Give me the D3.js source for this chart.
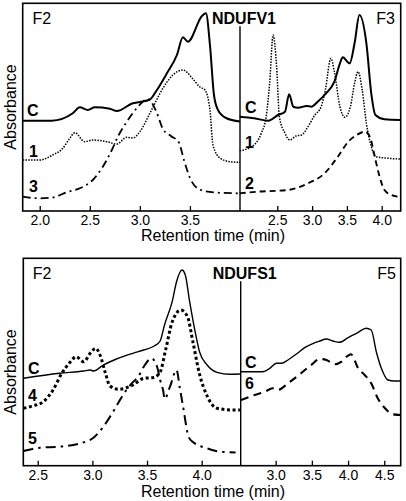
<!DOCTYPE html>
<html><head><meta charset="utf-8">
<script src="https://cdn.jsdelivr.net/npm/d3@7"></script>
<style>
body{margin:0;background:#fff}
svg{display:block}
text{font-family:"Liberation Sans",Arial,Helvetica,sans-serif;fill:#000}
</style>
</head><body>
<svg id="chart" width="406" height="501"></svg>
<script>
// ---------------- DATA (retention time in min, absorbance in arbitrary units) ----------------
// NDUFV1, fraction F2
const v1F2_C = [[1.83,90.3],[2.12,90.3],[2.33,97.7],[2.40,103.7],[2.48,101],[2.55,103.7],[2.70,102.3],[2.77,100],[2.93,107.7],[3.00,109],[3.10,111.5],[3.17,121],[3.27,137.7],[3.37,156],[3.43,173.7],[3.48,169.3],[3.62,195],[3.66,197.7],[3.70,166],[3.74,116],[3.78,101],[3.86,93],[4.00,89.5]];
const v1F2_1 = [[1.83,51],[2.00,51],[2.13,56],[2.23,62.7],[2.30,72.7],[2.35,78.3],[2.45,69.3],[2.53,71],[2.67,69.3],[2.77,67],[2.87,73.7],[2.93,73],[3.00,79.3],[3.10,97.7],[3.23,122.7],[3.33,136],[3.43,141],[3.53,132],[3.60,124],[3.65,121],[3.70,101],[3.73,66],[3.80,53],[3.90,49.3],[4.00,48.7]];
const v1F2_3 = [[1.83,14.3],[2.00,12.7],[2.12,13.3],[2.27,18.7],[2.40,22.7],[2.53,31],[2.63,44.3],[2.72,61],[2.78,74.3],[2.87,89.3],[2.97,103],[3.08,112],[3.17,98],[3.23,82],[3.31,75],[3.39,68.5],[3.44,51],[3.51,31],[3.61,21],[3.75,18.5],[3.98,17.7]];
// NDUFV1, fraction F3
const v1F3_C = [[1.96,94.3],[2.17,92.7],[2.37,90.3],[2.51,96],[2.61,99.3],[2.67,116.7],[2.73,104.3],[2.80,103.3],[2.92,105],[2.99,104.3],[3.08,109.3],[3.20,117.7],[3.32,129.3],[3.40,147.7],[3.44,153.7],[3.54,147.7],[3.61,167.7],[3.68,196],[3.78,167.7],[3.85,117.7],[3.91,96],[4.04,91.7],[4.27,91]];
const v1F3_1 = [[1.96,60.3],[2.13,64.3],[2.27,77.7],[2.34,94.3],[2.39,127.7],[2.44,176],[2.49,144.3],[2.53,94.3],[2.61,77.7],[2.68,71],[2.77,75],[2.85,76],[2.94,84.3],[3.04,96],[3.13,104.3],[3.19,121],[3.27,152.7],[3.32,139.3],[3.40,104.3],[3.47,93.7],[3.55,104.3],[3.61,127.7],[3.66,139.3],[3.72,121],[3.78,87.7],[3.85,64.3],[3.92,54.3],[4.09,52.7],[4.27,52]];
const v1F3_2 = [[1.96,17.7],[2.22,19.3],[2.65,21],[2.94,27.7],[3.18,37.7],[3.37,54.3],[3.52,69.3],[3.64,76],[3.76,79.3],[3.83,74.3],[3.90,54.3],[3.97,34.3],[4.04,21],[4.14,16],[4.27,14]];
// NDUFS1, fraction F2
const s1F2_C = [[2.37,87.4],[2.70,92.4],[2.92,94.7],[2.98,95.7],[3.01,94.7],[3.10,100.7],[3.22,106.7],[3.37,112.4],[3.47,115.7],[3.57,120],[3.62,124.7],[3.66,140.7],[3.73,164],[3.77,184],[3.82,195.7],[3.85,190.7],[3.89,164],[3.94,134],[3.98,114],[4.05,100.7],[4.14,93.4],[4.26,91.4],[4.35,91.7]];
const s1F2_4 = [[2.37,57.4],[2.46,60],[2.55,64],[2.64,75.7],[2.72,92.4],[2.80,104],[2.85,109],[2.92,104],[2.98,112.4],[3.03,117.4],[3.07,110.7],[3.12,92.4],[3.16,79.7],[3.24,76.4],[3.37,80.7],[3.47,87.4],[3.56,88.2],[3.62,93.7],[3.67,115.7],[3.73,143.7],[3.81,155.7],[3.87,149],[3.92,123.7],[3.98,91.7],[4.05,69.7],[4.14,57.4],[4.29,55.7],[4.35,55.7]];
const s1F2_5 = [[2.37,14.7],[2.52,18],[2.70,19],[2.89,22.4],[3.01,28],[3.10,39],[3.19,54],[3.28,70.7],[3.36,82.4],[3.42,89],[3.47,99],[3.54,107.4],[3.59,99.7],[3.62,85.7],[3.65,73.7],[3.66,66.7],[3.71,79],[3.77,95.7],[3.80,77.7],[3.83,59],[3.88,29],[3.92,23.7],[4.05,17.4],[4.17,14],[4.31,13.2]];
// NDUFS1, fraction F5
const s1F5_C = [[2.52,94],[2.82,94],[2.92,97.4],[3.01,102.4],[3.08,102.4],[3.17,105.7],[3.31,113],[3.40,118],[3.52,122.4],[3.61,124.7],[3.70,126.7],[3.79,124.7],[3.88,123.4],[4.00,128],[4.14,133.4],[4.25,137.4],[4.32,135.7],[4.39,114],[4.46,97.4],[4.55,85.7],[4.64,84.7],[4.73,84.7]];
const s1F5_6 = [[2.52,65.7],[2.71,70.7],[2.85,74],[2.96,77.4],[3.03,75.7],[3.17,82.4],[3.35,92.4],[3.49,100.7],[3.61,106.7],[3.70,105.7],[3.82,101.4],[3.91,104],[3.98,109],[4.04,111.4],[4.14,97.4],[4.23,90.7],[4.32,82.4],[4.41,67.4],[4.51,57.4],[4.62,51.4],[4.73,50.7]];

// tick labels
const ticksV1F2 = [2.0, 2.5, 3.0, 3.5];
const ticksV1F3 = [2.5, 3.0, 3.5, 4.0];
const ticksS1F2 = [2.5, 3.0, 3.5, 4.0];
const ticksS1F5 = [3.0, 3.5, 4.0, 4.5];
// x ranges
const domV1F2 = [1.83, 4.0];
const domV1F3 = [1.964, 4.273];
const domS1F2 = [2.368, 4.357];
const domS1F5 = [2.517, 4.727];
// text
const proteinLabels = ["NDUFV1", "NDUFS1"];
const xTitle = "Retention time (min)";
const yTitle = "Absorbance";

// ---------------- LAYOUT / STYLE ----------------
const svg = d3.select("#chart");
const styles = {
  solidThick: {w: 2, dash: null},
  solidThin: {w: 1.4, dash: null},
  dotFine: {w: 1.5, dash: "1.5,1.3"},
  dashDot: {w: 1.8, dash: "8,4,2,4"},
  dashed: {w: 1.9, dash: "6,4"},
  dotBold: {w: 3, dash: "3,2.6"},
  dashDotBold: {w: 2, dash: "10,5,2.5,5"},
  dashedBold: {w: 2.1, dash: "8,5.5"}
};

const blocks = [
  {top: 3.3, bottom: 211, left: 22.7, mid: 240, right: 400.7, protein: proteinLabels[0], titleY: 241, absY: 107,
   panels: [
     {dom: domV1F2, ticks: ticksV1F2, frac: "F2", fracX: 32.5, side: "L",
      series: [
        {d: v1F2_C, s: "solidThick", lab: "C", lx: 27, ly: 116},
        {d: v1F2_1, s: "dotFine", lab: "1", lx: 29, ly: 157},
        {d: v1F2_3, s: "dashDot", lab: "3", lx: 29, ly: 192}]},
     {dom: domV1F3, ticks: ticksV1F3, frac: "F3", fracX: 395, side: "R",
      series: [
        {d: v1F3_C, s: "solidThick", lab: "C", lx: 245, ly: 113},
        {d: v1F3_1, s: "dotFine", lab: "1", lx: 245, ly: 148},
        {d: v1F3_2, s: "dashed", lab: "2", lx: 245, ly: 189}]}
   ]},
  {top: 258.3, bottom: 465.7, left: 23.3, mid: 240.7, right: 400.7, protein: proteinLabels[1], titleY: 497, absY: 372,
   panels: [
     {dom: domS1F2, ticks: ticksS1F2, frac: "F2", fracX: 32.7, side: "L",
      series: [
        {d: s1F2_C, s: "solidThin", lab: "C", lx: 28, ly: 374},
        {d: s1F2_4, s: "dotBold", lab: "4", lx: 28, ly: 401},
        {d: s1F2_5, s: "dashDotBold", lab: "5", lx: 28, ly: 444}]},
     {dom: domS1F5, ticks: ticksS1F5, frac: "F5", fracX: 396, side: "R",
      series: [
        {d: s1F5_C, s: "solidThin", lab: "C", lx: 245, ly: 368},
        {d: s1F5_6, s: "dashedBold", lab: "6", lx: 245, ly: 389}]}
   ]}
];

blocks.forEach(b => {
  const g = svg.append("g");
  const h = b.bottom - b.top;
  const y = d3.scaleLinear().domain([0, h]).range([b.bottom, b.top]);

  b.panels.forEach(p => {
    const x0 = p.side === "L" ? b.left : b.mid;
    const x1 = p.side === "L" ? b.mid : b.right;
    const x = d3.scaleLinear().domain(p.dom).range([x0, x1]);

    const line = d3.line().x(d => x(d[0])).y(d => y(d[1])).curve(d3.curveMonotoneX);
    p.series.forEach(s => {
      const st = styles[s.s];
      g.append("path").datum(s.d).attr("d", line)
        .attr("fill", "none").attr("stroke", "#000")
        .attr("stroke-width", st.w)
        .attr("stroke-dasharray", st.dash)
        .attr("stroke-linejoin", "round");
      g.append("text").attr("x", s.lx).attr("y", s.ly)
        .attr("font-size", 16).attr("font-weight", "bold").text(s.lab);
    });

    const ax = g.append("g").attr("transform", `translate(0,${b.bottom})`)
      .call(d3.axisBottom(x).tickValues(p.ticks).tickSize(-5).tickPadding(4).tickFormat(d3.format(".1f")));
    ax.select(".domain").remove();
    ax.selectAll(".tick line").attr("stroke", "#000").attr("stroke-width", 1.3);
    ax.selectAll(".tick text").attr("font-size", 14).attr("font-family", "Liberation Sans, Arial, sans-serif").attr("fill", "#000");

    g.append("text").attr("x", p.fracX).attr("y", b.top + 21)
      .attr("text-anchor", p.side === "L" ? "start" : "end")
      .attr("font-size", 16).text(p.frac);
  });

  // frame and divider
  g.append("rect").attr("x", b.left).attr("y", b.top)
    .attr("width", b.right - b.left).attr("height", h)
    .attr("fill", "none").attr("stroke", "#000").attr("stroke-width", 1.6);
  g.append("line").attr("x1", b.mid).attr("x2", b.mid)
    .attr("y1", b.top + 23).attr("y2", b.bottom)
    .attr("stroke", "#000").attr("stroke-width", 1.4);

  g.append("text").attr("x", b.mid + 4).attr("y", b.top + 21)
    .attr("text-anchor", "middle").attr("font-size", 16).attr("font-weight", "bold").text(b.protein);

  g.append("text").attr("x", 213).attr("y", b.titleY)
    .attr("text-anchor", "middle").attr("font-size", 16).text(xTitle);

  g.append("text").attr("transform", `translate(16,${b.absY}) rotate(-90)`)
    .attr("text-anchor", "middle").attr("font-size", 16).text(yTitle);
});
</script>
</body></html>
